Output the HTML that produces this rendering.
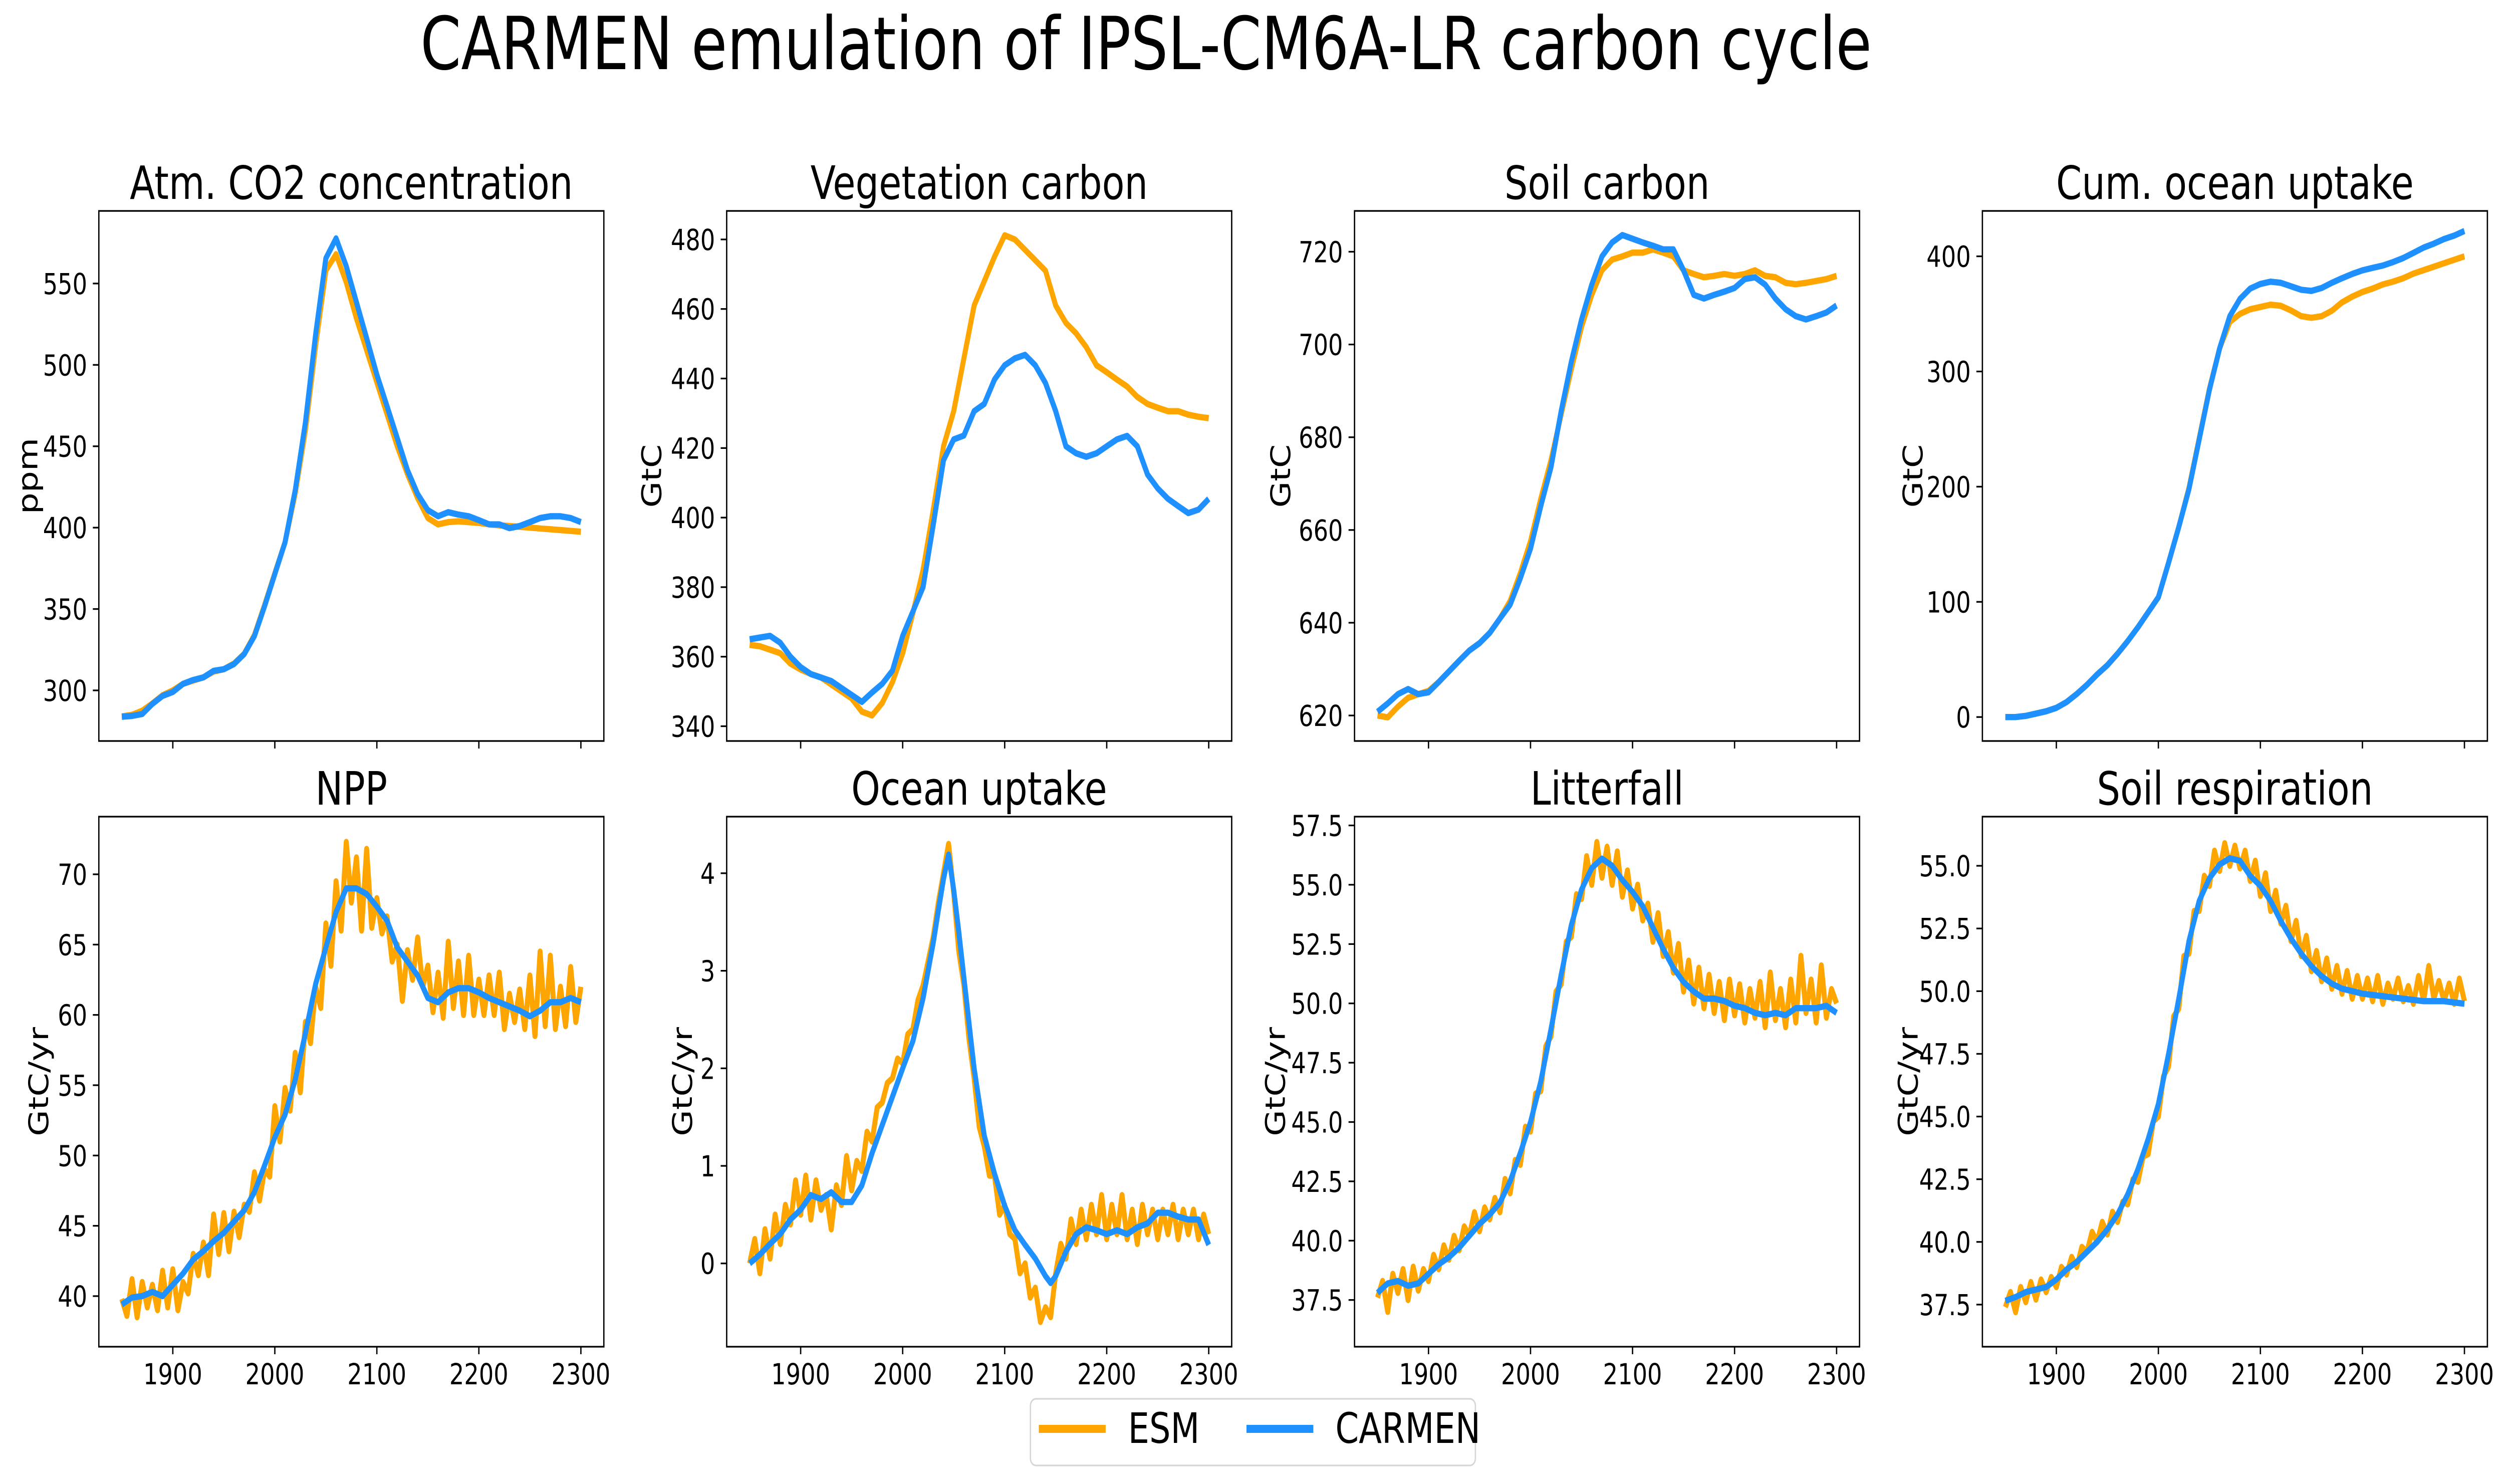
<!DOCTYPE html>
<html><head><meta charset="utf-8"><style>
html,body{margin:0;padding:0;background:#fff;overflow:hidden;}
svg{display:block;width:100vw;height:100vh;font-family:"DejaVu Sans","Liberation Sans",sans-serif;}
</style></head><body>
<svg id="fig" xmlns="http://www.w3.org/2000/svg" viewBox="0 0 6260 2962" preserveAspectRatio="none">
<rect width="6260" height="2962" fill="#fff"/>
<text x="2864" y="138" font-size="146" text-anchor="middle">CARMEN emulation of IPSL-CM6A-LR carbon cycle</text>
<g id="panels"></g>
<g>
<rect x="2575" y="2792" width="1112" height="133" rx="14" fill="#fff" stroke="#d6d6d6" stroke-width="3.3"/>
<line x1="2596" y1="2852" x2="2763" y2="2852" stroke="#FFA500" stroke-width="16"/>
<text x="2819" y="2880" font-size="84">ESM</text>
<line x1="3115" y1="2852" x2="3282" y2="2852" stroke="#1E90FF" stroke-width="16"/>
<text x="3337" y="2880" font-size="84">CARMEN</text>
</g>
</svg>
<script>
const years10 = [];
for (let y = 1850; y <= 2300; y += 10) years10.push(y);
const years5 = [];
for (let y = 1850; y <= 2300; y += 5) years5.push(y);
const xTicks = [1900, 2000, 2100, 2200, 2300];

const co2Esm = [284,285,287.5,292,297,300,304,306,308,311.5, 313,316.5,322.5,334,352.5,372,391,421,460,512, 558,568,550.7,528.6,509,489.3,469.7,450,432.9,418.1, 405.9,402,403.4,403.9,403.4,402.9,402,401.4,401,400.5, 400,399.5,399,398.5,398,397.5];
const co2Carmen = [283.8,284.3,285.5,291.7,296.6,299,304,306.4,308,312, 313,316.2,322.3,333.4,351.8,371.5,391,423,464.8,518.8, 565.5,577.7,560.6,538.5,516.4,494,474.6,455,435.3,420.6, 410.8,407,409.5,408,407,404.6,402,402,399.7,401, 403.4,405.9,407,407,405.9,403.4];

const vegEsm = [363.4,363,362,361,358,356.3,355,354,352,350, 348,344.2,343.1,346.7,352.7,361,372.5,385,402.3,420.5, 430.6,445.8,461,468,475,481.2,480,477,474,471, 461,456,453,449,443.8,441.8,439.7,437.7,434.7,432.7, 431.6,430.6,430.6,429.6,429,428.6];
const vegCarmen = [365,365.5,366,364,360,357,355,354,353,351, 349,347,349.7,352.2,356,366,373,380,398,416.5, 422.5,423.6,430.6,432.7,439.7,443.8,445.8,446.8,443.8,438.7, 430.6,420.5,418.5,417.5,418.5,420.5,422.5,423.5,420.5,412.4, 408.4,405.4,403.3,401.3,402.3,405.4];

const soilEsm = [620,619.6,621.9,623.8,624.6,625.3,627.2,629.5,631.8,634, 635.6,637.8,640.9,644.7,650.7,657.6,666.7,675,684.9,694.7, 703.8,710.7,716,718.3,719,719.8,719.8,720.5,719.8,719, 716,715.2,714.5,714.8,715.2,714.8,715.2,716,714.8,714.5, 713.3,713,713.3,713.7,714.1,714.8];
const soilCarmen = [620.8,622.6,624.6,625.7,624.6,625,627.2,629.5,631.8,634, 635.6,637.8,640.9,643.9,649.6,656,665.1,673.5,685.6,696.3, 705.4,712.9,719,722,723.6,722.8,722,721.3,720.5,720.5, 716,710.7,709.9,710.7,711.4,712.2,714.1,714.5,712.9,709.9, 707.6,706.1,705.4,706.1,706.9,708.4];

const cumOceanEsm = [0,0,1,3,5,8,13,20,28,37, 45,55,66,78,91,104,134,165,199,242, 285,320,343,350,354,356,358,357,353,348, 346.6,348,352.7,360,365,369,372,375.6,378,381, 385,388,391,394,397,400];
const cumOceanCarmen = [0,0,1,3,5,8,13,20,28,37, 45,55,66,78,91,104,134,165,198,241, 284,320,348,363,372,376,378,377,374,371, 370,372.5,377,381,384.7,387.8,390,392,395,398.5, 403,407.6,411,415,418,422];

const nppEsm = [39.8,38.6,41.2,38.5,41.0,39.2,40.8,39.0,41.8,39.2, 41.9,39.0,41.0,40.2,43.0,41.5,43.8,41.5,45.8,43.0, 45.9,43.2,46.0,44.2,46.5,46.0,48.8,46.8,49.0,48.5, 53.5,51.0,54.8,53.2,57.3,54.5,59.5,58.0,62.0,60.5, 66.5,63.5,69.5,66.0,72.3,68.0,71.2,66.0,71.8,66.2, 68.3,65.8,67.0,63.8,65.0,61.0,64.6,62.5,65.5,62.0, 63.5,60.2,63.0,59.8,65.2,60.5,63.8,60.0,64.2,60.0, 62.5,60.0,62.8,60.0,63.0,59.0,61.5,59.5,61.8,59.0, 62.8,58.5,64.5,59.2,64.2,59.0,62.0,59.2,63.4,59.5, 62.0];
const nppCarmen = [39.4,39.9,40,40.3,40,40.8,41.6,42.6,43.2,43.9, 44.5,45.3,46.1,47.4,49.3,51.3,52.9,55.4,58.7,62.2, 64.8,67.3,69,69,68.6,67.7,66.7,64.8,63.8,62.8, 61.2,60.9,61.6,61.9,61.9,61.6,61.2,60.9,60.6,60.3, 59.9,60.3,60.9,60.9,61.2,60.9];

const oceanUpEsm = [0.0,0.25,-0.1,0.35,0.05,0.5,0.2,0.6,0.4,0.85, 0.5,0.9,0.45,0.85,0.55,0.7,0.35,0.8,0.6,1.1, 0.75,1.05,0.95,1.35,1.25,1.6,1.65,1.85,1.9,2.1, 2.05,2.35,2.4,2.7,2.85,3.1,3.35,3.7,4.0,4.3, 3.8,3.2,2.85,2.3,1.9,1.4,1.2,0.9,0.9,0.5, 0.6,0.3,0.25,-0.1,0.0,-0.35,-0.25,-0.6,-0.45,-0.55, -0.1,0.2,0.05,0.45,0.2,0.55,0.25,0.6,0.3,0.7, 0.25,0.6,0.3,0.7,0.25,0.55,0.2,0.6,0.3,0.55, 0.25,0.55,0.3,0.6,0.25,0.55,0.3,0.55,0.25,0.5, 0.3];
const oceanUpCarmenYears = [1850,1860,1870,1880,1890,1900,1910,1920,1930,1940,1950,1960,1970,1980,1990,2000,2010,2020,2030,2035,2040,2045,2050,2055,2060,2070,2080,2090,2100,2110,2120,2130,2140,2145,2150,2160,2170,2180,2190,2200,2210,2220,2230,2240,2250,2260,2270,2280,2290,2300];
const oceanUpCarmen = [0,0.09,0.2,0.3,0.45,0.55,0.7,0.66,0.73,0.63, 0.63,0.8,1.13,1.42,1.71,2.0,2.28,2.72,3.29,3.62, 3.94,4.19,3.83,3.4,2.93,2.0,1.31,0.92,0.59,0.34, 0.19,0.05,-0.13,-0.2,-0.13,0.12,0.3,0.37,0.34,0.3, 0.34,0.3,0.37,0.41,0.52,0.52,0.48,0.45,0.45,0.19];

const litterEsm = [37.6,38.3,37.0,38.6,37.8,38.8,37.5,38.9,37.9,38.8, 38.3,39.4,38.8,39.8,39.2,40.2,39.6,40.6,40.2,41.2, 40.4,41.4,40.9,41.8,41.2,42.6,42.0,43.4,43.2,44.8, 44.6,46.2,46.3,48.2,48.6,50.5,50.8,52.6,52.8,54.6, 54.4,56.2,55.0,56.8,55.3,56.6,55.0,56.4,54.5,55.6, 54.0,55.0,53.5,54.2,52.6,53.8,52.0,53.0,51.3,52.5, 50.5,51.8,50.0,51.5,49.8,51.2,49.6,50.9,49.3,51.0, 49.5,50.8,49.2,50.6,49.4,50.9,49.0,51.3,49.3,50.6, 49.0,51.0,49.2,52.0,49.6,51.0,49.2,51.6,49.4,50.6, 50.0];
const litterCarmen = [37.8,38.2,38.3,38.1,38.2,38.6,39,39.3,39.7,40.2, 40.7,41.1,41.6,42.5,43.7,45.0,46.7,48.9,51.2,53.3, 54.8,55.7,56.1,55.8,55.2,54.7,54.1,53.2,52.3,51.5, 50.9,50.5,50.2,50.2,50.1,49.9,49.8,49.6,49.5,49.6, 49.5,49.8,49.8,49.8,49.9,49.6];

const soilRespEsm = [37.4,38.0,37.2,38.2,37.6,38.4,37.7,38.5,38.0,38.6, 38.2,39.0,38.7,39.4,39.0,39.8,39.6,40.4,40.0,40.8, 40.3,41.2,40.8,41.6,41.5,42.5,42.4,43.4,43.5,44.8, 45.0,46.6,47.0,49.0,49.3,51.4,51.5,53.2,53.2,54.6, 54.2,55.6,54.8,55.9,55.0,55.8,54.9,55.6,54.4,55.2, 53.8,54.7,53.2,54.0,52.7,53.4,52.0,52.8,51.4,52.2, 50.8,51.6,50.4,51.3,50.1,51.0,49.9,50.8,49.7,50.6, 49.7,50.5,49.6,50.6,49.5,50.3,49.7,50.5,49.6,50.2, 49.5,50.6,49.6,51.0,49.7,50.4,49.6,50.3,49.5,50.5, 49.6];
const soilRespCarmen = [37.65,37.8,38.0,38.1,38.2,38.5,38.9,39.2,39.6,40.0, 40.5,41.1,41.9,42.9,44.1,45.5,47.5,49.7,52,53.6, 54.5,55.05,55.3,55.2,54.6,54.2,53.6,52.8,52.1,51.5, 51,50.6,50.3,50.1,50,49.9,49.85,49.8,49.75,49.7, 49.65,49.6,49.6,49.6,49.55,49.5];

const ticksCo2 = [300,350,400,450,500,550];
const ticksVeg = [340,360,380,400,420,440,460,480];
const ticksSoil = [620,640,660,680,700,720];
const ticksCum = [0,100,200,300,400];
const ticksNpp = [40,45,50,55,60,65,70];
const ticksOceanUp = [0,1,2,3,4];
const ticksLitter = [37.5,40,42.5,45,47.5,50,52.5,55,57.5];
const ticksSoilResp = [37.5,40,42.5,45,47.5,50,52.5,55];

const NS = "http://www.w3.org/2000/svg";
const XMIN = 1827.5, XMAX = 2322.5;
const colLeft = [247, 1816, 3385, 4954], W = 1262;
const rowTop = [421, 1630], H = 1058;

const panels = [
 {name:"co2", title:"Atm. CO2 concentration", ylab:"ppm", lo:268.9, hi:594.6, ticks:ticksCo2, dec:0, lx:69, esm:[years10,co2Esm], car:[years10,co2Carmen]},
 {name:"vegetation", title:"Vegetation carbon", ylab:"GtC", lo:335.75, hi:488.2, ticks:ticksVeg, dec:0, lx:1628, esm:[years10,vegEsm], car:[years10,vegCarmen]},
 {name:"soil", title:"Soil carbon", ylab:"GtC", lo:614.5, hi:728.8, ticks:ticksSoil, dec:0, lx:3200, esm:[years10,soilEsm], car:[years10,soilCarmen]},
 {name:"cum-ocean", title:"Cum. ocean uptake", ylab:"GtC", lo:-20.8, hi:439.4, ticks:ticksCum, dec:0, lx:4780, esm:[years10,cumOceanEsm], car:[years10,cumOceanCarmen]},
 {name:"npp", title:"NPP", ylab:"GtC/yr", lo:36.4, hi:74.1, ticks:ticksNpp, dec:0, lx:96, esm:[years5,nppEsm], car:[years10,nppCarmen]},
 {name:"ocean-uptake", title:"Ocean uptake", ylab:"GtC/yr", lo:-0.854, hi:4.58, ticks:ticksOceanUp, dec:0, lx:1705, esm:[years5,oceanUpEsm], car:[oceanUpCarmenYears,oceanUpCarmen]},
 {name:"litterfall", title:"Litterfall", ylab:"GtC/yr", lo:35.53, hi:57.87, ticks:ticksLitter, dec:1, lx:3187, esm:[years5,litterEsm], car:[years10,litterCarmen]},
 {name:"soil-respiration", title:"Soil respiration", ylab:"GtC/yr", lo:35.82, hi:56.96, ticks:ticksSoilResp, dec:1, lx:4768, esm:[years5,soilRespEsm], car:[years10,soilRespCarmen]}
];

function mk(tag, attrs, parent){
  const e = document.createElementNS(NS, tag);
  for (const k in attrs) e.setAttribute(k, attrs[k]);
  parent.appendChild(e);
  return e;
}
const root = document.getElementById("panels");
panels.forEach((p, i) => {
  const L = colLeft[i % 4], T = rowTop[Math.floor(i / 4)], B = T + H, R = L + W;
  const xs = v => L + (v - XMIN) / (XMAX - XMIN) * W;
  const ys = v => B - (v - p.lo) / (p.hi - p.lo) * H;
  const g = mk("g", {}, root);
  
  
  const t = mk("text", {x:(L + R) / 2, y:T - 24, "font-size":92, "text-anchor":"middle"}, g);
  t.textContent = p.title;
  
  
  const yl = mk("text", {x:0, y:0, "font-size":68, "text-anchor":"middle", transform:"translate(" + (p.lx + 24) + "," + ((T + B) / 2) + ") rotate(-90)"}, g);
  yl.textContent = p.ylab;
  
  
  p.ticks.forEach(v => {
    const y = ys(v);
    const tk = mk("line", {x1:L - 15, x2:L, y1:y, y2:y, stroke:"#000", "stroke-width":3.3}, g);
    
    
    const tl = mk("text", {x:L - 29, y:y + 21, "font-size":58, "text-anchor":"end"}, g);
    tl.textContent = v.toFixed(p.dec);
    
    
  });
  xTicks.forEach(v => {
    const x = xs(v);
    const tk = mk("line", {x1:x, x2:x, y1:B, y2:B + 15, stroke:"#000", "stroke-width":3.3}, g);
    
    
    if (i >= 4) {
      const tl = mk("text", {x:x, y:B + 75, "font-size":58, "text-anchor":"middle"}, g);
      tl.textContent = String(v);
      
      
    }
  });
  [["esm", p.esm, "#FFA500"], ["carmen", p.car, "#1E90FF"]].forEach(([nm, d, col]) => {
    const pts = d[1].map((v, k) => xs(d[0][k]).toFixed(1) + "," + ys(v).toFixed(1)).join(" ");
    const pl = mk("polyline", {points:pts, fill:"none", stroke:col, "stroke-width":12.5, "stroke-linejoin":"round", "stroke-linecap":"butt"}, g);
    
    
  });
  const fr = mk("rect", {x:L, y:T, width:W, height:H, fill:"none", stroke:"#000", "stroke-width":3.3}, g);
  
  
});
</script>
</body></html>
